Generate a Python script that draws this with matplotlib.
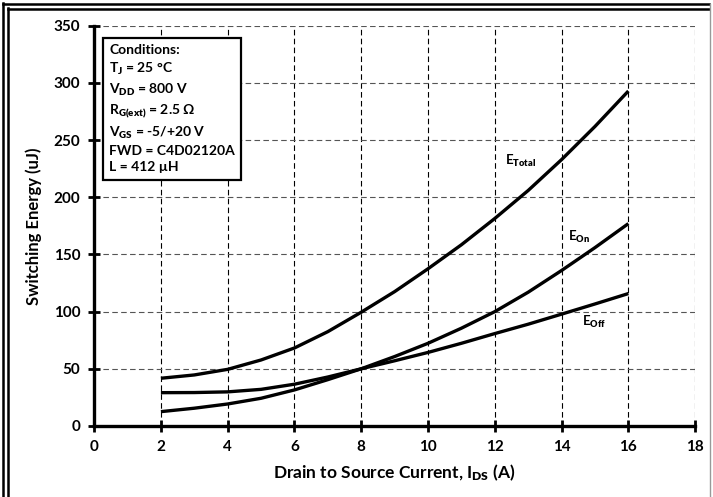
import matplotlib
matplotlib.use('Agg')
import matplotlib.pyplot as plt
from matplotlib.lines import Line2D

plt.rcParams['font.family'] = ['Lato', 'DejaVu Sans']
plt.rcParams['font.weight'] = 'bold'
plt.rcParams['axes.labelweight'] = 'bold'
plt.rcParams['mathtext.fontset'] = 'custom'
plt.rcParams['mathtext.rm'] = 'Lato:heavy'
plt.rcParams['mathtext.it'] = 'Lato:heavy'
plt.rcParams['mathtext.bf'] = 'Lato:heavy'
plt.rcParams['mathtext.default'] = 'rm'

# data
ids = [2, 3, 4, 5, 6, 7, 8, 9, 10, 11, 12, 13, 14, 15, 16]
e_total = [41.7, 44.6, 49.5, 57.7, 68.2, 82.5, 99.5, 117.5, 137.5, 158.5, 181.5, 206, 233, 262, 293]
e_on = [12.5, 15.5, 19.2, 24.2, 31.5, 40.5, 50, 60.7, 72.3, 85.5, 100, 117, 136, 156, 177]
e_off = [29.1, 29.2, 29.8, 32.0, 36.5, 42.8, 50, 57, 64.3, 72.3, 80.8, 89, 97.8, 106.7, 115.8]

x_ticks = list(range(0, 19, 2))
y_ticks = list(range(0, 351, 50))

conditions = [
    'Conditions:',
    'T$_J$ = 25 °C',
    'V$_{DD}$ = 800 V',
    'R$_{G(ext)}$ = 2.5 Ω',
    'V$_{GS}$ = -5/+20 V',
    'FWD = C4D02120A',
    'L = 412 µH',
]

fig = plt.figure(figsize=(7.13, 4.97), dpi=100)
ax = fig.add_axes([0.132, 0.143, 0.843, 0.805])

for x, y in [(ids, e_total), (ids, e_on), (ids, e_off)]:
    ax.plot(x, y, color='black', lw=2.4, solid_capstyle='butt', solid_joinstyle='round')

ax.set_xlim(0, 18)
ax.set_ylim(0, 350)
ax.set_xticks(x_ticks)
ax.set_yticks(y_ticks)
ax.grid(axis='x', color='black', ls=(0, (5, 3)), lw=0.8)
ax.grid(axis='y', color='#555555', ls=(0, (5, 3)), lw=0.8)
ax.set_axisbelow(True)
for s in ['top', 'right']:
    ax.spines[s].set_visible(False)
for s in ['left', 'bottom']:
    ax.spines[s].set_linewidth(2.4)
ax.tick_params(direction='inout', length=8, width=2, labelsize=11, pad=6)
for lab in ax.get_xticklabels() + ax.get_yticklabels():
    lab.set_fontweight('bold')

ax.set_xlabel('Drain to Source Current, I$_{DS}$ (A)', fontsize=12.5, fontweight='bold', labelpad=6)
ax.set_ylabel('Switching Energy (uJ)', fontsize=12, fontweight='bold', labelpad=8)

ax.text(12.3, 232, 'E$_{Total}$', fontsize=9.5, va='center')
ax.text(14.2, 165, 'E$_{On}$', fontsize=9.5, va='center')
ax.text(14.6, 91, 'E$_{Off}$', fontsize=9.5, va='center')

ax.text(0.025, 0.955, '\n'.join(conditions), transform=ax.transAxes, fontsize=10,
        va='top', ha='left', linespacing=1.4,
        bbox=dict(boxstyle='square,pad=0.45', fc='white', ec='black', lw=1.6))

# double frame around the figure
W, H = 713, 497
def fl(x0, y0, x1, y1, c='black', lw=1.8):
    fig.add_artist(Line2D([x0 / W, x1 / W], [1 - y0 / H, 1 - y1 / H], color=c, lw=lw,
                          transform=fig.transFigure))

fl(3, 3, 3, 497)
fl(7.5, 8, 7.5, 497)
fl(3, 4, 709, 4)
fl(7.5, 8.5, 709, 8.5)
fl(710, 4, 710, 497, c='#999999', lw=1)

fig.savefig('out.png', dpi=100)
